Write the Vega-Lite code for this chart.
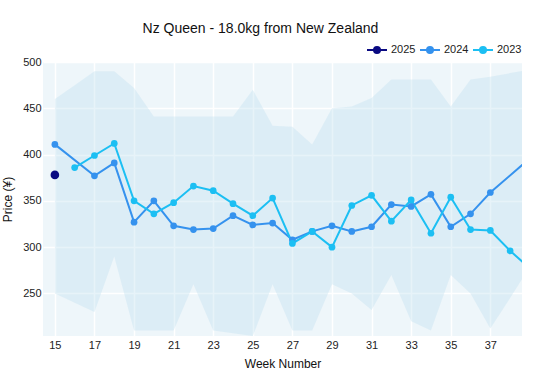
{
  "$schema": "https://vega.github.io/schema/vega-lite/v6.json",
  "width": 479,
  "height": 274,
  "autosize": "none",
  "padding": {"left": 43, "top": 62, "right": 38, "bottom": 39},
  "background": "white",
  "config": {
    "font": "Liberation Sans",
    "view": {"fill": "#eef6fa", "stroke": null},
    "axis": {"labelFont": "Liberation Sans", "titleFont": "Liberation Sans", "labelColor": "#222", "titleColor": "#111", "labelFontSize": 11, "titleFontSize": 12, "titleFontWeight": "normal", "domain": false, "ticks": false, "gridColor": "#ffffff", "gridWidth": 1.5, "gridOpacity": 1}
  },
  "title": {"text": "Nz Queen - 18.0kg from New Zealand", "fontSize": 14, "fontWeight": "normal", "color": "#111", "anchor": "middle", "frame": "group", "dx": -22, "offset": 3},
  "datasets": {
    "band": [
      {"week": 15, "lo": 250, "hi": 460},
      {"week": 16, "lo": 240, "hi": 475},
      {"week": 17, "lo": 230, "hi": 490},
      {"week": 18, "lo": 290, "hi": 490},
      {"week": 19, "lo": 210, "hi": 472},
      {"week": 20, "lo": 210, "hi": 441},
      {"week": 21, "lo": 210, "hi": 441},
      {"week": 22, "lo": 260, "hi": 441},
      {"week": 23, "lo": 210, "hi": 441},
      {"week": 24, "lo": 207, "hi": 441},
      {"week": 25, "lo": 204, "hi": 470},
      {"week": 26, "lo": 260, "hi": 431},
      {"week": 27, "lo": 210, "hi": 430},
      {"week": 28, "lo": 210, "hi": 411},
      {"week": 29, "lo": 260, "hi": 450},
      {"week": 30, "lo": 250, "hi": 452},
      {"week": 31, "lo": 232, "hi": 461},
      {"week": 32, "lo": 270, "hi": 481},
      {"week": 33, "lo": 220, "hi": 481},
      {"week": 34, "lo": 210, "hi": 481},
      {"week": 35, "lo": 270, "hi": 452},
      {"week": 36, "lo": 250, "hi": 481},
      {"week": 37, "lo": 212, "hi": 484},
      {"week": 38, "lo": 245, "hi": 488},
      {"week": 39, "lo": 279, "hi": 492}
    ],
    "series": [
      {"year": "2025", "week": 15, "price": 378},
      {"year": "2024", "week": 15, "price": 411},
      {"year": "2024", "week": 17, "price": 377},
      {"year": "2024", "week": 18, "price": 391},
      {"year": "2024", "week": 19, "price": 327},
      {"year": "2024", "week": 20, "price": 350},
      {"year": "2024", "week": 21, "price": 323},
      {"year": "2024", "week": 22, "price": 319},
      {"year": "2024", "week": 23, "price": 320},
      {"year": "2024", "week": 24, "price": 334},
      {"year": "2024", "week": 25, "price": 324},
      {"year": "2024", "week": 26, "price": 326},
      {"year": "2024", "week": 27, "price": 308},
      {"year": "2024", "week": 28, "price": 317},
      {"year": "2024", "week": 29, "price": 323},
      {"year": "2024", "week": 30, "price": 317},
      {"year": "2024", "week": 31, "price": 322},
      {"year": "2024", "week": 32, "price": 346},
      {"year": "2024", "week": 33, "price": 344},
      {"year": "2024", "week": 34, "price": 357},
      {"year": "2024", "week": 35, "price": 322},
      {"year": "2024", "week": 36, "price": 336},
      {"year": "2024", "week": 37, "price": 359},
      {"year": "2024", "week": 39, "price": 396},
      {"year": "2023", "week": 16, "price": 386},
      {"year": "2023", "week": 17, "price": 399},
      {"year": "2023", "week": 18, "price": 412},
      {"year": "2023", "week": 19, "price": 350},
      {"year": "2023", "week": 20, "price": 336},
      {"year": "2023", "week": 21, "price": 348},
      {"year": "2023", "week": 22, "price": 366},
      {"year": "2023", "week": 23, "price": 361},
      {"year": "2023", "week": 24, "price": 347},
      {"year": "2023", "week": 25, "price": 334},
      {"year": "2023", "week": 26, "price": 353},
      {"year": "2023", "week": 27, "price": 304},
      {"year": "2023", "week": 28, "price": 317},
      {"year": "2023", "week": 29, "price": 300},
      {"year": "2023", "week": 30, "price": 345},
      {"year": "2023", "week": 31, "price": 356},
      {"year": "2023", "week": 32, "price": 328},
      {"year": "2023", "week": 33, "price": 351},
      {"year": "2023", "week": 34, "price": 315},
      {"year": "2023", "week": 35, "price": 354},
      {"year": "2023", "week": 36, "price": 319},
      {"year": "2023", "week": 37, "price": 318},
      {"year": "2023", "week": 38, "price": 296},
      {"year": "2023", "week": 39, "price": 277}
    ]
  },
  "encoding": {
    "x": {"field": "week", "type": "quantitative", "scale": {"domain": [14.4, 38.6], "nice": false, "zero": false},
      "axis": {"values": [15, 17, 19, 21, 23, 25, 27, 29, 31, 33, 35, 37], "title": "Week Number", "labelPadding": 3, "titlePadding": 8}}
  },
  "layer": [
    {
      "data": {"name": "band"},
      "mark": {"type": "area", "clip": true, "fill": "#bfe0ee", "opacity": 0.38},
      "encoding": {
        "y": {"field": "lo", "type": "quantitative", "scale": {"domain": [204, 500], "nice": false, "zero": false},
          "axis": {"values": [250, 300, 350, 400, 450, 500], "title": "Price (¥)", "labelPadding": 2, "titlePadding": 8}},
        "y2": {"field": "hi"}
      }
    },
    {
      "data": {"name": "series"},
      "mark": {"type": "line", "clip": true, "strokeWidth": 2},
      "encoding": {
        "y": {"field": "price", "type": "quantitative"},
        "color": {"field": "year", "type": "nominal",
          "scale": {"domain": ["2025", "2024", "2023"], "range": ["#0a0a82", "#3592ee", "#1cbff3"]},
          "legend": {"title": null, "orient": "none", "direction": "horizontal", "legendX": 323, "legendY": -23,
            "labelFontSize": 11, "labelColor": "#222", "labelOffset": 3, "columnPadding": 0,
            "symbolType": "M-1,0H1M0.3,0A0.3,0.3 0 1 1 -0.3,0A0.3,0.3 0 1 1 0.3,0", "symbolSize": 400, "symbolStrokeWidth": 2}},
        "order": {"field": "week"}
      }
    },
    {
      "data": {"name": "series"},
      "mark": {"type": "point", "filled": true, "opacity": 1, "clip": true, "size": 45},
      "encoding": {
        "y": {"field": "price", "type": "quantitative"},
        "color": {"field": "year", "type": "nominal",
          "legend": {"title": null, "orient": "none", "direction": "horizontal", "legendX": 323, "legendY": -23,
            "labelFontSize": 11, "labelColor": "#222", "labelOffset": 3, "columnPadding": 0,
            "symbolType": "M-1,0H1M0.3,0A0.3,0.3 0 1 1 -0.3,0A0.3,0.3 0 1 1 0.3,0", "symbolSize": 400, "symbolStrokeWidth": 2,
            "encode": {"symbols": {"update": {
              "stroke": {"scale": "color", "field": "value"},
              "strokeWidth": {"value": 2},
              "fill": {"scale": "color", "field": "value"},
              "opacity": {"value": 1}}}}}}
      }
    },
    {
      "data": {"name": "series"},
      "transform": [{"filter": "datum.year === '2025'"}],
      "mark": {"type": "point", "filled": true, "opacity": 1, "clip": true, "size": 75, "color": "#0a0a82"},
      "encoding": {
        "y": {"field": "price", "type": "quantitative"}
      }
    }
  ]
}
